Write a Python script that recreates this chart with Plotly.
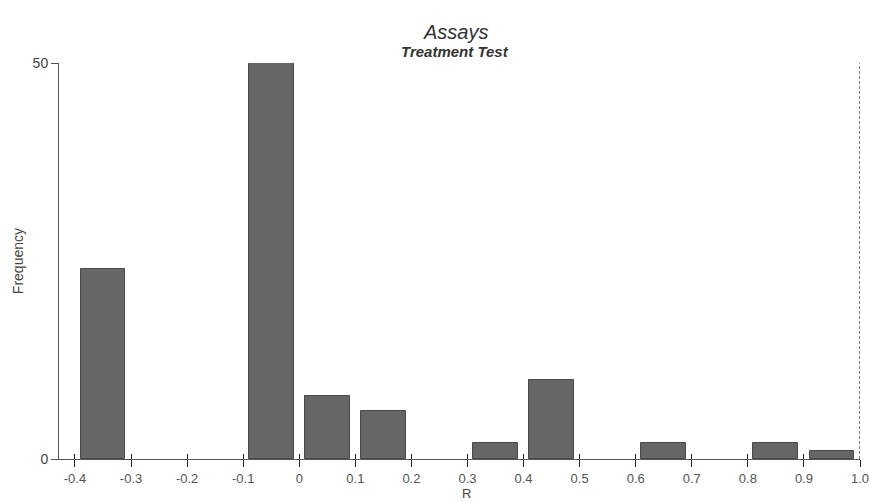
import plotly.graph_objects as go

# Data
bin_centers = [-0.35, -0.05, 0.05, 0.15, 0.35, 0.45, 0.65, 0.85, 0.95]
frequencies = [24, 50, 8, 6, 2, 10, 2, 2, 1]
bar_width = 0.08
x_tick_vals = [-0.4, -0.3, -0.2, -0.1, 0, 0.1, 0.2, 0.3, 0.4, 0.5, 0.6, 0.7, 0.8, 0.9, 1.0]
x_tick_text = ["-0.4", "-0.3", "-0.2", "-0.1", "0", "0.1", "0.2", "0.3", "0.4", "0.5",
               "0.6", "0.7", "0.8", "0.9", "1.0"]
y_tick_vals = [0, 50]
ref_line_x = 1.0

font_family = "Liberation Sans, Arial, sans-serif"

fig = go.Figure()
fig.add_trace(go.Bar(
    x=bin_centers, y=frequencies, width=bar_width,
    marker=dict(color="#666666", line=dict(color="#4a4a4a", width=1)),
    showlegend=False, hoverinfo="x+y",
))
# reference line at R = 1.0 (on overlay axes, which also carry the inside tick marks)
fig.add_trace(go.Scatter(x=[ref_line_x, ref_line_x], y=[0, 50], mode="lines",
                         line=dict(color="black", width=1, dash="3px,2px"),
                         xaxis="x2", yaxis="y2", showlegend=False, hoverinfo="skip"))

xr = [-0.4285, 1.0]
yr = [0, 50]

fig.update_layout(
    width=870, height=502,
    margin=dict(l=59, r=10, t=63, b=43, autoexpand=False),
    paper_bgcolor="white", plot_bgcolor="white",
    font=dict(family=font_family, color="#444444", size=13),
    bargap=0,
    xaxis=dict(range=xr, tickvals=x_tick_vals, ticktext=x_tick_text, automargin=False,
               showline=True, linecolor="#555555", linewidth=1,
               ticks="outside", ticklen=7, tickcolor="#222222", tickwidth=1,
               showgrid=False, zeroline=False,
               tickfont=dict(size=13, color="#555555")),
    xaxis2=dict(range=xr, overlaying="x", anchor="y", tickvals=x_tick_vals, automargin=False,
                showticklabels=False, ticks="inside", ticklen=5, tickcolor="#222222",
                showgrid=False, zeroline=False, showline=False, side="bottom"),
    yaxis=dict(range=yr, tickvals=y_tick_vals, showline=True, linecolor="#555555",
               linewidth=1, ticks="outside", ticklen=7, tickcolor="#555555", automargin=False,
               showgrid=False, zeroline=False, tickfont=dict(size=14, color="#444444")),
    yaxis2=dict(range=yr, overlaying="y", anchor="x", tickvals=y_tick_vals, automargin=False,
                showticklabels=False, ticks="inside", ticklen=6, tickcolor="#555555",
                showgrid=False, zeroline=False, showline=False, side="left"),
    annotations=[
        dict(text="<i>Assays</i>", xref="paper", yref="paper", x=0.495, y=1.078,
             showarrow=False, xanchor="center", yanchor="middle",
             font=dict(size=20, color="#333333", family=font_family)),
        dict(text="<b><i>Treatment Test</i></b>", xref="paper", yref="paper", x=0.495, y=1.030,
             showarrow=False, xanchor="center", yanchor="middle",
             font=dict(size=15, color="#333333", family=font_family)),
        dict(text="Frequency", xref="paper", yref="paper", x=-0.051, y=0.5,
             textangle=-90, showarrow=False, xanchor="center", yanchor="middle",
             font=dict(size=14, color="#444444", family=font_family)),
        dict(text="R", xref="paper", yref="paper", x=0.509, y=-0.087,
             showarrow=False, xanchor="center", yanchor="middle",
             font=dict(size=13, color="#444444", family=font_family)),
    ],
)

fig.write_html("out.html", config={"displayModeBar": False},
               post_script="document.body.style.margin='0';document.body.style.overflow='hidden';")
